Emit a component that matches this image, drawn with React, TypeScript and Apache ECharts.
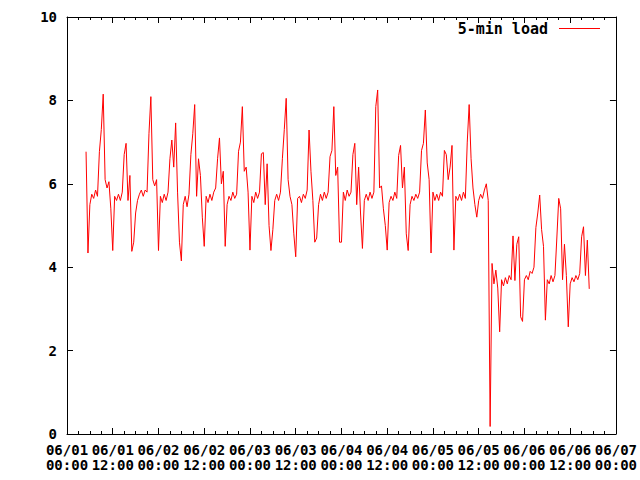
import React, { useEffect, useRef } from "react";
import * as echarts from "echarts";

const seriesName = "5-min load";
const stepHours = 0.5;
// hour offsets (from 06/01 00:00) at which each day's list starts
const dayStarts = [5, 24, 48, 72, 96, 120];

const day1 = [
  6.77, 4.34, 5.5, 5.75, 5.65, 5.85, 5.7, 6.77, 7.3, 8.15,
  6.1, 5.9, 6.05, 5.4, 4.4, 5.7, 5.6, 5.75, 5.6, 5.8,
  6.7, 6.97, 5.6, 6.2, 4.38, 4.6, 5.3, 5.6, 5.75, 5.85,
  5.7, 5.85, 5.8, 7.2, 8.09, 6.1, 5.95, 6.1,
];
const day2 = [
  4.4, 5.7, 5.55, 5.75, 5.6, 5.8, 6.6, 7.05, 6.4, 7.46,
  5.8, 4.6, 4.15, 5.5, 5.7, 5.45, 5.75, 6.7, 7.2, 7.9,
  5.7, 6.6, 6.2, 5.2, 4.5, 5.7, 5.55, 5.75, 5.6, 5.8,
  5.9, 6.6, 7.1, 6.0, 6.3, 4.5, 5.5, 5.7, 5.6, 5.8,
  5.65, 5.75, 6.78, 7.0, 7.85, 6.3, 6.4, 5.8,
];
const day3 = [
  4.41, 5.7, 5.55, 5.8, 5.65, 5.8, 6.72, 6.75, 5.5, 6.48,
  5.0, 4.4, 4.9, 5.6, 5.75, 5.6, 5.8, 6.6, 7.3, 8.05,
  6.1, 5.7, 5.5, 4.8, 4.25, 5.65, 5.7, 5.55, 5.75, 5.65,
  5.85, 7.29, 6.3, 5.6, 4.6, 4.7, 5.5, 5.75, 5.6, 5.8,
  5.65, 5.8, 6.65, 6.8, 7.85, 6.2, 6.4, 4.6,
];
const day4 = [
  4.6, 5.8, 5.6, 5.85, 5.7, 5.8, 6.7, 6.97, 5.5, 6.4,
  5.3, 4.45, 5.6, 5.75, 5.6, 5.8, 5.65, 5.8, 7.85, 8.25,
  5.9, 5.95, 5.4, 5.0, 4.41, 5.55, 5.7, 5.6, 5.8, 5.65,
  6.68, 6.92, 5.9, 6.4, 4.8, 4.4, 5.5, 5.7, 5.6, 5.75,
  5.65, 5.8, 6.8, 6.97, 7.77, 6.5, 6.1, 4.34,
];
const day5 = [
  5.8, 5.6, 5.75, 5.6, 5.8, 5.7, 6.8, 6.7, 6.1, 6.4,
  6.92, 4.41, 5.7, 5.6, 5.75, 5.6, 5.8, 5.65, 7.0, 7.9,
  6.6, 5.9, 5.5, 5.2, 5.6, 5.75, 5.65, 5.85, 6.0, 5.6,
  0.18, 4.09, 3.6, 3.93, 3.5, 2.45, 3.7, 3.55, 3.75, 3.6,
  3.8, 3.7, 4.75, 3.68, 4.55, 4.73, 2.81, 2.7,
];
const day6 = [
  3.7, 3.8, 3.7, 3.9, 3.85, 4.0, 4.95, 5.3, 5.73, 4.9,
  4.5, 2.73, 3.7, 3.6, 3.8, 3.65, 3.8, 4.7, 5.65, 5.4,
  3.7, 4.55, 3.8, 2.57, 3.6, 3.75, 3.65, 3.8, 3.7, 3.85,
  4.73, 4.97, 3.8, 4.65, 3.48,
];
const days = [day1, day2, day3, day4, day5, day6];

const xTickLabels = [
  "06/01\n00:00", "06/01\n12:00", "06/02\n00:00", "06/02\n12:00",
  "06/03\n00:00", "06/03\n12:00", "06/04\n00:00", "06/04\n12:00",
  "06/05\n00:00", "06/05\n12:00", "06/06\n00:00", "06/06\n12:00",
  "06/07\n00:00",
];
const yMin = 0;
const yMax = 10;
const yStep = 2;
const xMin = 0;
const xMax = 144;
const xStep = 12;

const FONT = "DejaVu Sans Mono";
const RED = "#ff0000";

export default function App() {
  const ref = useRef<HTMLDivElement>(null);
  useEffect(() => {
    document.body.style.margin = "0";
    if (!ref.current) return;
    const chart = echarts.init(ref.current, undefined, { renderer: "svg" });
    const data: [number, number][] = [];
    days.forEach((vals, d) => {
      vals.forEach((v, i) => data.push([dayStarts[d] + i * stepHours, v]));
    });
    const axisLine = { show: true, onZero: false, lineStyle: { color: "#000", width: 1 } };
    const tick = { show: true, inside: true, length: 6, lineStyle: { color: "#000" } };
    const minor = { show: true, splitNumber: 4, length: 3, lineStyle: { color: "#000" } };
    chart.setOption({
      animation: false,
      backgroundColor: "#fff",
      textStyle: { fontFamily: FONT },
      grid: { left: 67, right: 23, top: 17, bottom: 46, containLabel: false },
      legend: {
        data: [seriesName],
        right: 40,
        top: 21,
        padding: 0,
        align: "right",
        itemWidth: 41,
        itemHeight: 1,
        icon: "rect",
        itemStyle: { color: RED },
        textStyle: {
          fontFamily: FONT,
          fontSize: 15,
          fontWeight: "bold",
          color: "#000",
          padding: [0, 6, 0, 0],
        },
      },
      xAxis: [
        {
          type: "value",
          min: xMin,
          max: xMax,
          interval: xStep,
          position: "bottom",
          axisLine,
          axisTick: tick,
          minorTick: minor,
          splitLine: { show: false },
          axisLabel: {
            show: true,
            margin: 8,
            fontFamily: FONT,
            fontSize: 14,
            fontWeight: "bold",
            lineHeight: 15,
            color: "#000",
            showMinLabel: true,
            showMaxLabel: true,
            hideOverlap: false,
            formatter: (v: number) => xTickLabels[Math.round(v / xStep)] ?? "",
          },
        },
        {
          type: "value",
          min: xMin,
          max: xMax,
          interval: xStep,
          position: "top",
          axisLine,
          axisTick: tick,
          minorTick: minor,
          splitLine: { show: false },
          axisLabel: { show: false },
        },
      ],
      yAxis: [
        {
          type: "value",
          min: yMin,
          max: yMax,
          interval: yStep,
          position: "left",
          axisLine,
          axisTick: tick,
          splitLine: { show: false },
          axisLabel: {
            margin: 10,
            fontFamily: FONT,
            fontSize: 14,
            fontWeight: "bold",
            lineHeight: 11,
            color: "#000",
          },
        },
        {
          type: "value",
          min: yMin,
          max: yMax,
          interval: yStep,
          position: "right",
          axisLine,
          axisTick: tick,
          splitLine: { show: false },
          axisLabel: { show: false },
        },
      ],
      series: [
        {
          name: seriesName,
          type: "line",
          data,
          symbol: "none",
          color: RED,
          lineStyle: { color: RED, width: 1 },
        },
      ],
    });
    return () => chart.dispose();
  }, []);
  return <div ref={ref} style={{ width: 640, height: 480 }} />;
}
